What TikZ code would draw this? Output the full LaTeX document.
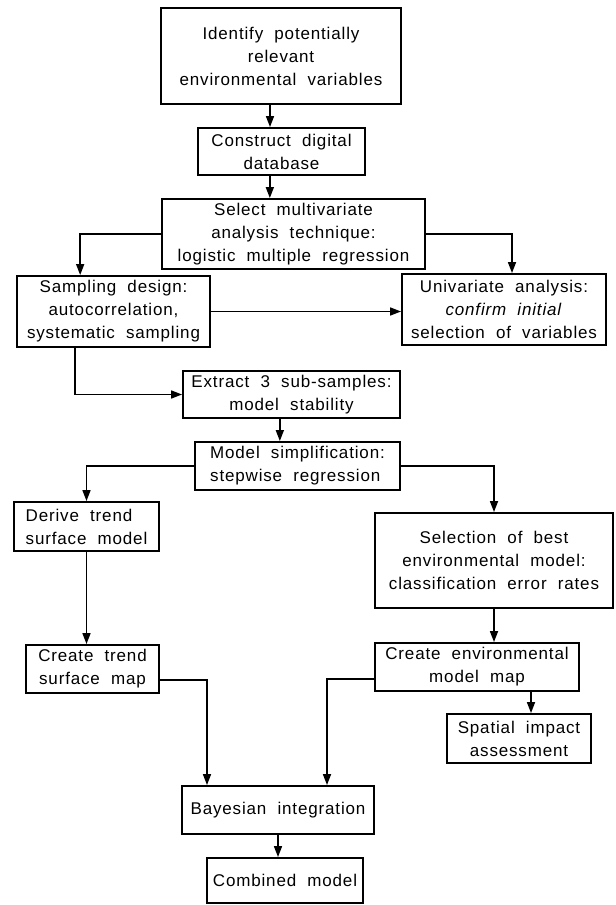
\documentclass[tikz,border=0pt]{standalone}
\usepackage{fontspec}
\setmainfont{Liberation Sans}[LetterSpace=5,WordSpace=2]
\usetikzlibrary{arrows.meta}

\begin{document}
\begin{tikzpicture}[x=0.03cm, y=-0.03cm,
		stage/.style={rectangle, draw=black, line width=1.6pt, inner sep=0pt, align=center, font=\fontsize{14.5}{19.6}\selectfont},
		flow/.style={-{Triangle[length=0.33cm, width=0.24cm]}, line width=1.4pt}]
		\useasboundingbox (0,0) rectangle (615,905);
		\node[stage, minimum width=7.2cm,  minimum height=2.88cm](identify)   at (281,56)    {Identify potentially\\relevant\\environmental variables};
		\node[stage, minimum width=5.01cm, minimum height=1.41cm](database)   at (281.5,151.5){Construct digital\\database};
		\node[stage, minimum width=7.89cm, minimum height=2.1cm] (technique)  at (293.5,234)  {Select multivariate\\analysis technique:\\logistic multiple regression};
		\node[stage, minimum width=5.79cm, minimum height=2.13cm](sampling)   at (113.5,311.5){Sampling design:\\autocorrelation,\\systematic sampling};
		\node[stage, minimum width=6.12cm, minimum height=2.13cm](univariate) at (504,309.5)  {Univariate analysis:\\\textit{confirm initial}\\selection of variables};
		\node[stage, minimum width=6.51cm, minimum height=1.41cm](extract)    at (291.5,394.5){Extract 3 sub-samples:\\model stability};
		\node[stage, minimum width=6.15cm, minimum height=1.44cm, align=left](simplify) at (297.5,466){Model simplification:\\stepwise regression};
		\node[stage, minimum width=4.35cm, minimum height=1.47cm, align=left](trend)    at (86.5,526.5){Derive trend\\surface model};
		\node[stage, minimum width=7.14cm, minimum height=2.85cm](best)       at (494,560.5)  {Selection of best\\environmental model:\\classification error rates};
		\node[stage, minimum width=3.99cm, minimum height=1.44cm](trendmap)   at (92.5,669)   {Create trend\\surface map};
		\node[stage, minimum width=6.12cm, minimum height=1.44cm](envmap)     at (477,667)    {Create environmental\\model map};
		\node[stage, minimum width=4.32cm, minimum height=1.47cm](impact)     at (519,738.5)  {Spatial impact\\assessment};
		\node[stage, minimum width=5.76cm, minimum height=1.44cm](bayes)      at (278,810)    {Bayesian integration};
		\node[stage, minimum width=4.68cm, minimum height=1.35cm](combined)   at (285,880.5)  {Combined model};
		\coordinate(drop1) at ([xshift=-0.33cm]identify.south);
		\coordinate(drop2) at ([xshift=-0.35cm]database.south);
		\coordinate(drop3) at ([xshift=-0.35cm]extract.south);
		\coordinate(drop4) at ([xshift=1.62cm]envmap.south);
		\draw [flow] (drop1) -- (drop1 |- database.north);
		\draw [flow] (drop2) -- (drop2 |- technique.north);
		\draw [flow] (technique.west) -| ([xshift=-1cm]sampling.north);
		\draw [flow] (technique.east) -| ([xshift=0.24cm]univariate.north);
		\draw [flow] (sampling.east) -- (sampling.east -| univariate.west);
		\draw [flow] ([xshift=-1.15cm]sampling.south) |- (extract.west);
		\draw [flow] (drop3) -- (drop3 |- simplify.north);
		\draw [flow] (simplify.west) -| (trend.north);
		\draw [flow] (simplify.east) -| (best.north);
		\draw [flow] (trend.south) -- (trend.south |- trendmap.north);
		\draw [flow] (best.south) -- (best.south |- envmap.north);
		\draw [flow] (drop4) -- (drop4 |- impact.north);
		\draw [flow] ([yshift=-0.33cm]trendmap.east) -| ([xshift=-2.13cm]bayes.north);
		\draw [flow] ([yshift=-0.36cm]envmap.west) -| ([xshift=1.47cm]bayes.north);
		\draw [flow] (bayes.south) -- (bayes.south |- combined.north);
	\end{tikzpicture}
\end{document}
